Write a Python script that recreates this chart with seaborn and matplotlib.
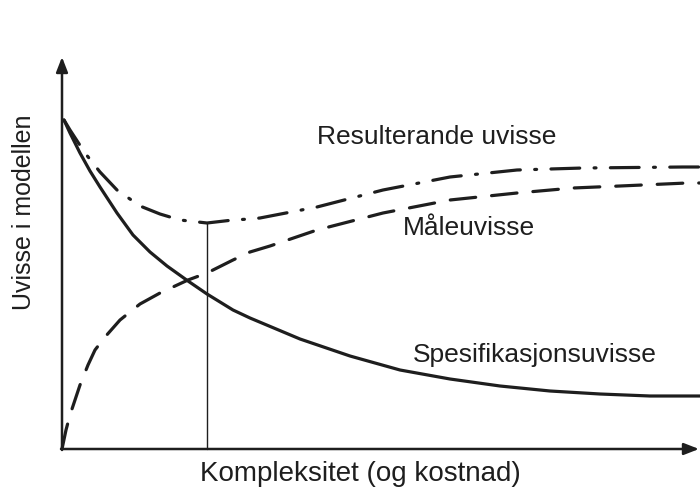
import numpy as np
import matplotlib
matplotlib.use("Agg")
import matplotlib.pyplot as plt
import seaborn as sns

# points (x = complexity, y = uncertainty, arbitrary units)
spes_x = [2, 8, 18, 28, 38, 55, 71, 88, 105, 126, 145, 171, 188, 238, 288, 338, 388, 438, 488, 538, 588, 638]
spes_y = [329, 316, 296, 278, 262, 236, 214, 197, 183, 168, 155, 139, 131, 110, 93, 79, 70, 63, 58, 55, 53, 53]

maale_x = [0, 4, 8, 13, 18, 26, 33, 43, 58, 78, 98, 126, 145, 171, 188, 208, 255, 321, 388, 455, 511, 558, 625, 638]
maale_y = [0, 19, 34, 49, 64, 84, 99, 112, 129, 145, 156, 169, 176, 189, 197, 203, 219, 236, 249, 256, 261, 263, 266, 266]

res_x = [2, 8, 23, 38, 55, 78, 98, 118, 145, 171, 188, 198, 255, 321, 388, 455, 521, 621, 638]
res_y = [329, 319, 296, 277, 259, 243, 235, 229, 226, 229, 230, 231, 242, 259, 272, 279, 281, 282, 282]

opt_x = 145          # optimum complexity (vertical line)
opt_y = 226

labels = ["Resulterande uvisse", "Måleuvisse", "Spesifikasjonsuvisse"]
xlabel = "Kompleksitet (og kostnad)"
ylabel = "Uvisse i modellen"

sns.set_style("white")
plt.rcParams["font.family"] = ["Liberation Sans", "DejaVu Sans"]

ink = "#1e1e1e"
fig = plt.figure(figsize=(7, 4.9), dpi=100)
ax = fig.add_axes([0, 0, 1, 1])
ax.set_xlim(-62, 638)
ax.set_ylim(-41, 449)
ax.axis("off")

sns.lineplot(x=spes_x, y=spes_y, ax=ax, color=ink, lw=2.3, solid_capstyle="round")
l2 = sns.lineplot(x=maale_x, y=maale_y, ax=ax, color=ink, lw=2.3).lines[-1]
l2.set_dashes((8, 5))
l2.set_dash_capstyle("round")
l3 = sns.lineplot(x=res_x, y=res_y, ax=ax, color=ink, lw=2.3).lines[-1]
l3.set_dashes((9, 4.5, 0.6, 4.5))
l3.set_dash_capstyle("round")

ax.plot([opt_x, opt_x], [0, opt_y], color=ink, lw=1.0)

# axes with arrows
ax.annotate("", xy=(0, 392), xytext=(0, -1),
            arrowprops=dict(arrowstyle="-|>,head_length=0.9,head_width=0.35",
                            color=ink, lw=1.8, shrinkA=0, shrinkB=0))
ax.annotate("", xy=(637, 0), xytext=(-1, 0),
            arrowprops=dict(arrowstyle="-|>,head_length=0.9,head_width=0.35",
                            color=ink, lw=1.8, shrinkA=0, shrinkB=0))

ax.text(375, 312, labels[0], fontsize=19, color=ink, ha="center", va="center")
ax.text(407, 221, labels[1], fontsize=19, color=ink, ha="center", va="center")
ax.text(473, 94, labels[2], fontsize=19, color=ink, ha="center", va="center")
ax.text(298, -25, xlabel, fontsize=20, color=ink, ha="center", va="center")
ax.text(-38, 237, ylabel, fontsize=18, color=ink, ha="center", va="center", rotation=90)

fig.savefig("out.png", dpi=100)
